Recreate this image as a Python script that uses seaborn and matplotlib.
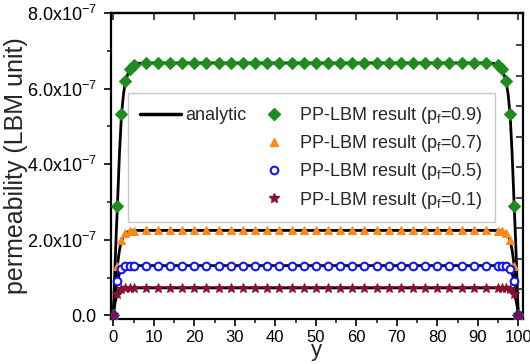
import numpy as np
import pandas as pd
import seaborn as sns
import matplotlib
matplotlib.use("Agg")
import matplotlib.pyplot as plt
from matplotlib.ticker import FixedLocator, MultipleLocator, NullFormatter
from matplotlib.lines import Line2D

sns.set_style("white")
plt.rcParams['font.family'] = ['Liberation Sans', 'DejaVu Sans']
plt.rcParams['mathtext.fontset'] = 'custom'
plt.rcParams['mathtext.rm'] = 'Liberation Sans'
plt.rcParams['mathtext.it'] = 'Liberation Sans'

# ---- data (permeability in units of 1e-7 LBM units) ----
y_pos = [0, 1, 2, 3, 4, 5, 8, 11, 14, 17, 20, 23, 26, 29, 32, 35, 38, 41, 44, 47, 50,
         53, 56, 59, 62, 65, 68, 71, 74, 77, 80, 83, 86, 89, 92, 95, 96, 97, 98, 99, 100]

k_pf09 = [0, 2.89, 5.32, 6.21, 6.53, 6.64] + [6.68] * 29 + [6.64, 6.53, 6.21, 5.32, 2.89, 0]
k_pf07 = [0, 1.32, 2.00, 2.18, 2.23, 2.245] + [2.25] * 29 + [2.245, 2.23, 2.18, 2.00, 1.32, 0]
k_pf05 = [0, 0.91, 1.24, 1.30, 1.32, 1.32] + [1.32] * 29 + [1.32, 1.32, 1.30, 1.24, 0.91, 0]
k_pf01 = [0, 0.56, 0.70, 0.73, 0.73, 0.73] + [0.73] * 29 + [0.73, 0.73, 0.73, 0.70, 0.56, 0]

line_y = [0, 0.25, 0.5, 0.75, 1, 1.5, 2, 2.5, 3, 4, 5, 6, 8, 50, 92,
          94, 95, 96, 97, 97.5, 98, 98.5, 99, 99.25, 99.5, 99.75, 100]
an_pf09 = [0, 0.8, 1.55, 2.25, 2.89, 4.25, 5.3, 5.85, 6.2, 6.52, 6.63, 6.67, 6.68, 6.68, 6.68,
           6.67, 6.63, 6.52, 6.2, 5.85, 5.3, 4.25, 2.89, 2.25, 1.55, 0.8, 0]
an_pf07 = [0, 0.42, 0.78, 1.08, 1.32, 1.72, 1.98, 2.1, 2.18, 2.23, 2.245, 2.25, 2.25, 2.25, 2.25,
           2.25, 2.245, 2.23, 2.18, 2.1, 1.98, 1.72, 1.32, 1.08, 0.78, 0.42, 0]
an_pf05 = [0, 0.35, 0.6, 0.78, 0.91, 1.1, 1.22, 1.28, 1.30, 1.315, 1.32, 1.32, 1.32, 1.32, 1.32,
           1.32, 1.32, 1.315, 1.30, 1.28, 1.22, 1.1, 0.91, 0.78, 0.6, 0.35, 0]
an_pf01 = [0, 0.22, 0.38, 0.48, 0.56, 0.66, 0.70, 0.72, 0.73, 0.73, 0.73, 0.73, 0.73, 0.73, 0.73,
           0.73, 0.73, 0.73, 0.73, 0.72, 0.70, 0.66, 0.56, 0.48, 0.38, 0.22, 0]

labels = ["PP-LBM result (p$_{\\mathregular{f}}$=0.9)",
          "PP-LBM result (p$_{\\mathregular{f}}$=0.7)",
          "PP-LBM result (p$_{\\mathregular{f}}$=0.5)",
          "PP-LBM result (p$_{\\mathregular{f}}$=0.1)"]
yticks = [0, 2, 4, 6, 8]
ytick_labels = ["0.0", "2.0x10$^{\\mathregular{-7}}$", "4.0x10$^{\\mathregular{-7}}$",
                "6.0x10$^{\\mathregular{-7}}$", "8.0x10$^{\\mathregular{-7}}$"]
xticks = [0, 10, 20, 30, 40, 50, 60, 70, 80, 90, 100]

SC = 1e-7

fig = plt.figure(figsize=(5.3, 3.64), dpi=100)
ax = fig.add_axes([0.2085, 0.125, 0.7785, 0.839])

# analytic lines
for an in [an_pf09, an_pf07, an_pf05, an_pf01]:
    sns.lineplot(x=line_y, y=np.array(an) * SC, ax=ax, color='black', lw=2,
                 estimator=None, sort=False, zorder=2)

styles = [
    dict(marker='D', color='#1e8c1e', markersize=6, markerfacecolor='#1e8c1e', markeredgecolor='#1e8c1e'),
    dict(marker='^', color='#ff8a1a', markersize=6, markerfacecolor='#ff8a1a', markeredgecolor='#ff8a1a'),
    dict(marker='o', color='#1414ff', markersize=5.5, markerfacecolor='white', markeredgecolor='#1414ff',
         markeredgewidth=1.5),
    dict(marker='*', color='#8a1030', markersize=7.5, markerfacecolor='#8a1030', markeredgecolor='#8a1030'),
]
handles = []
for vals, st in zip([k_pf09, k_pf07, k_pf05, k_pf01], styles):
    sns.lineplot(x=y_pos, y=np.array(vals) * SC, ax=ax, linestyle='none',
                 estimator=None, sort=False, zorder=3, **st)
    handles.append(Line2D([], [], linestyle='none', **st))

ax.set_xlim(-0.7, 101.2)
ax.set_ylim(-0.08e-7, 8.0e-7)

ax.set_yticks([v * SC for v in yticks])
ax.set_yticklabels(ytick_labels)
ax.yaxis.set_minor_locator(MultipleLocator(1e-7))
ax.set_xticks(xticks)
ax.set_xticklabels([str(t) for t in xticks])
ax.xaxis.set_minor_locator(MultipleLocator(5))

ax.tick_params(axis='both', which='major', direction='out', length=5, width=1.2,
               pad=3, colors='black', left=True, bottom=True)
ax.tick_params(axis='both', which='minor', direction='out', length=3, width=1.2,
               left=True, bottom=True)
ax.tick_params(axis='y', which='major', labelsize=13, pad=5)
ax.tick_params(axis='x', which='major', labelsize=12, pad=3)
for sp in ax.spines.values():
    sp.set_visible(True)
    sp.set_color('black')
    sp.set_linewidth(1.6)

# top ticks (inward)
secx = ax.secondary_xaxis('top')
secx.set_xticks(xticks)
secx.xaxis.set_major_formatter(NullFormatter())
secx.tick_params(direction='in', length=5, width=1.2)
secx.spines['top'].set_linewidth(1.6)

# right ticks (inward)
ax2 = ax.twinx()
ax2.set_ylim(0, 1)
ax2.yaxis.set_major_locator(FixedLocator([0.095, 0.195, 0.295, 0.395, 0.495, 0.595, 0.695, 0.795, 0.895]))
ax2.yaxis.set_major_formatter(NullFormatter())
ax2.tick_params(axis='y', direction='in', length=5, width=1.2, right=True)
for sp in ax2.spines.values():
    sp.set_visible(False)

ax.set_xlabel("y", fontsize=16, labelpad=-3)
ax.set_ylabel("permeability (LBM unit)", fontsize=18, labelpad=-1)

blank = Line2D([], [], linestyle='none', marker=None)
an_handle = Line2D([], [], color='black', lw=2.5)
leg_handles = [an_handle, blank, blank, blank] + handles
leg_labels = ["analytic", "", "", ""] + labels
leg = ax.legend(leg_handles, leg_labels, ncol=2, loc='upper left',
                bbox_to_anchor=(0.042, 0.738), borderaxespad=0, fontsize=13, frameon=True,
                fancybox=False, edgecolor='#c8c8c8', framealpha=1, handlelength=2.3,
                handletextpad=0.25, columnspacing=0.35, labelspacing=0.4, borderpad=0.65)
leg.get_frame().set_linewidth(1.0)

fig.savefig("out.png", dpi=100)
